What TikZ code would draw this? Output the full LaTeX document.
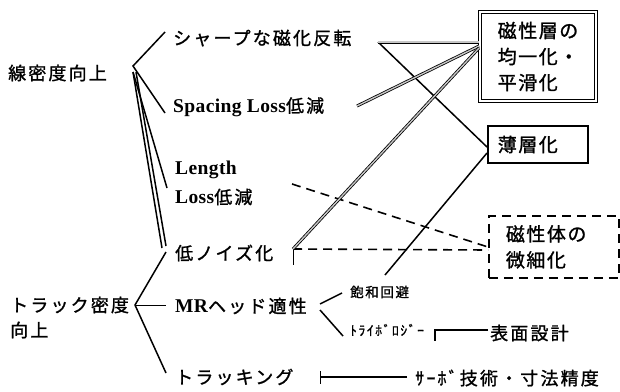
\documentclass[tikz,border=0pt]{standalone}
\usepackage{fontspec}
\setmainfont{Liberation Serif}
\newfontfamily\jp{Noto Sans CJK JP}[LetterSpace=12, FakeBold=1.2]
\newfontfamily\jpb{Noto Sans CJK JP}[LetterSpace=8, FakeBold=1.2]
\newfontfamily\lt{Liberation Serif}[LetterSpace=2]
\begin{document}
\begin{tikzpicture}[x=1pt,y=-1pt,
  lbl/.style={anchor=west, inner sep=0pt, font=\jp\fontsize{18}{20}\selectfont},
  sml/.style={anchor=west, inner sep=0pt, font=\jp\fontsize{13.5}{15}\selectfont},
  conn/.style={line width=1.5pt},
  thinconn/.style={line width=0.8pt},
  dbl/.style={line width=3pt, draw=black, postaction={draw=gray!45, line width=1.4pt}},
  dsh/.style={line width=1.6pt, dash pattern=on 9pt off 6pt},
  boxA/.style={draw, double, double distance=2.5pt, line width=0.8pt, minimum width=116, minimum height=89, inner sep=0pt, align=left, font=\jpb\fontsize{19}{26}\selectfont},
  boxB/.style={draw, line width=1.6pt, minimum height=37, text width=80, inner xsep=10pt, inner ysep=0pt, align=left, font=\jpb\fontsize{19}{22}\selectfont},
  boxC/.style={draw, line width=1.8pt, dash pattern=on 9pt off 6pt, minimum height=62, text width=96, inner xsep=17pt, inner ysep=0pt, align=left, font=\jpb\fontsize{19}{26}\selectfont}
]
\useasboundingbox (0,0) rectangle (620,391);
\fill[white] (0,0) rectangle (620,391);

% left labels
\node[lbl] (sen) at (8,73) {線密度向上};
\node[lbl] (tr1) at (10,305) {トラック密度};
\node[lbl] (tr2) at (10,330) {向上};

% middle labels
\node[lbl] (sharp) at (173,38) {シャープな磁化反転};
\node[lbl] (spac) at (173,107) {{\lt\bfseries\fontsize{19.5}{20}\selectfont Spacing Loss}低減};
\node[lbl] (len1) at (175,170) {{\lt\bfseries\fontsize{19.5}{20}\selectfont Length}};
\node[lbl] (len2) at (175,197) {{\lt\bfseries\fontsize{19.5}{20}\selectfont Loss}低減};
\node[lbl] (noise) at (175,253) {低ノイズ化};
\node[lbl] (mr) at (175,306) {{\lt\bfseries\fontsize{19.5}{20}\selectfont MR}ヘッド適性};
\node[lbl] (track) at (175,377) {トラッキング};

\node[sml] (hou) at (350,292) {飽和回避};
\node[sml] (tribo) at (350,330) {ﾄﾗｲﾎﾞﾛｼﾞｰ};
\node[lbl] (hyo) at (490,333) {表面設計};
\node[lbl] (servo) at (415,378) {ｻｰﾎﾞ技術・寸法精度};

% boxes
\node[boxA] (bA) at (538,56.5) {磁性層の\\均一化・\\平滑化};
\node[boxB, anchor=west] (bB) at (487,144.5) {薄層化};
\node[boxC, anchor=north west] (bC) at (488,215) {磁性体の\\微細化};

% junction coordinates
\coordinate (j1) at (133,66);
\coordinate (j1a) at (133,72);
\coordinate (j1b) at (136,72);
\coordinate (sharpIn) at (165,32);
\coordinate (spacIn) at (165,113);
\coordinate (lenIn) at (167,188);
\coordinate (noiseInA) at (162,248);
\coordinate (noiseInB) at (166,246);
\coordinate (j2) at (135,305);
\coordinate (noiseIn2) at (166,252);
\coordinate (mrIn) at (166,305);
\coordinate (trackIn) at (166,373);
\coordinate (j3) at (320,304);
\coordinate (j3b) at (320,310);
\coordinate (houIn) at (342,293);
\coordinate (triboIn) at (343,336);

\draw[conn] (sharpIn) -- (j1) -- (spacIn);
\draw[conn] (j1a) -- (lenIn);
\draw[conn] (j1a) -- (noiseInA);
\draw[conn] (j1b) -- (noiseInB);
\draw[conn] (noiseIn2) -- (j2) -- (trackIn);
\draw[thinconn] (j2) -- (mrIn);
\draw[conn] (houIn) -- (j3);
\draw[conn] (j3b) -- (triboIn);

% right side connectors
\coordinate (sharpOut) at (378,42);
\coordinate (spacOut) at (357,106);
\coordinate (noiseOut) at (293,249);
\coordinate (lenOut) at (292,184);
\coordinate (bAin1) at (479,42);
\coordinate (bAin2) at (479,46);
\coordinate (bAin3) at (479,48);
\coordinate (bBin1) at (487,147);
\coordinate (bBin2) at (487,153);
\coordinate (bCin1) at (488,247);
\coordinate (bCin2) at (488,250);
\coordinate (houOut) at (385,275);

\draw[conn] (sharpOut) -- (bBin1);
\draw[conn] (houOut) -- (bBin2);
\draw[dsh] (lenOut) -- (bCin1);
\draw[dsh] (noiseOut) -- (bCin2);
\draw[thinconn] (noiseOut) -- ++(0,16);
\draw[dbl] (sharpOut) -- (bAin1);
\draw[dbl] (spacOut) -- (bAin2);
\draw[dbl] (noiseOut) -- (bAin3);

% tick lines
\coordinate (hyoT) at (435,330);
\draw[conn] (hyo.west) ++(-2,-3) coordinate (hyoE) (hyoE) -- (hyoT) -- ++(0,11);
\coordinate (servoT) at (320,377);
\draw[conn] (servo.west) ++(-8,-1) coordinate (servoE) (servoE) -- (servoT);
\draw[thinconn] (320,371) -- (320,384);
\end{tikzpicture}
\end{document}
